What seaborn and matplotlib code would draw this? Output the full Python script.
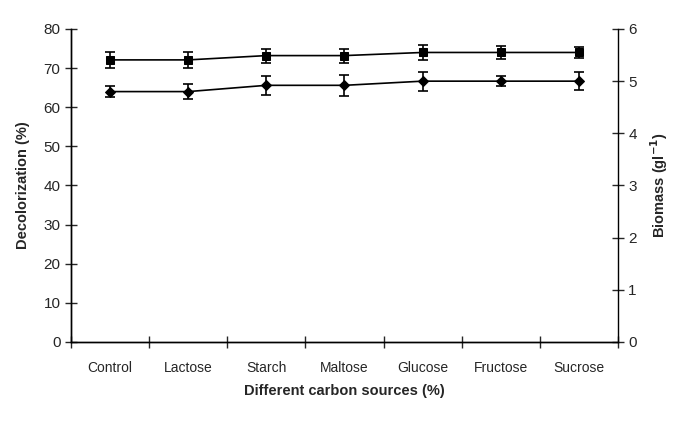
import numpy as np
import pandas as pd
import matplotlib
matplotlib.use("Agg")
import matplotlib.pyplot as plt
import seaborn as sns

# Values
sources = ['Control', 'Lactose', 'Starch', 'Maltose', 'Glucose', 'Fructose', 'Sucrose']
decolorization = [72.1, 72.1, 73.2, 73.2, 74.0, 74.0, 74.0]
decolorization_err = [2.0, 2.1, 1.8, 1.8, 1.9, 1.6, 1.4]
biomass = [4.8, 4.8, 4.92, 4.92, 5.0, 5.0, 5.0]
biomass_err = [0.10, 0.14, 0.18, 0.20, 0.18, 0.10, 0.17]

sns.set_style("ticks")
plt.rcParams['font.family'] = ['Liberation Sans Narrow', 'Liberation Sans', 'DejaVu Sans']

df = pd.DataFrame({'source': sources, 'decol': decolorization, 'biomass': biomass})

fig = plt.figure(figsize=(6.85, 4.25), dpi=100)
ax = fig.add_axes([0.1036, 0.1953, 0.7985, 0.7365])
ax2 = ax.twinx()

# Decolorization (left axis, squares)
sns.lineplot(data=df, x='source', y='decol', ax=ax, color='black', linewidth=1.2,
             marker='s', markersize=6, markeredgecolor='black', sort=False)
ax.errorbar(np.arange(len(sources)), decolorization, yerr=decolorization_err,
            fmt='none', ecolor='black', elinewidth=1.2, capsize=3.5, capthick=1.2)

# Biomass (right axis, diamonds)
sns.lineplot(data=df, x='source', y='biomass', ax=ax2, color='black', linewidth=1.2,
             marker='D', markersize=5, markeredgecolor='black', sort=False)
ax2.errorbar(np.arange(len(sources)), biomass, yerr=biomass_err,
             fmt='none', ecolor='black', elinewidth=1.2, capsize=3.5, capthick=1.2)

n = len(sources)
ax.set_xlim(-0.5, n - 0.5)
ax.set_ylim(0, 80)
ax.set_yticks(range(0, 81, 10))
ax2.set_ylim(0, 6)
ax2.set_yticks(range(0, 7))

# category boundaries as major ticks, labels centred as minor ticks
ax.set_xticks(np.arange(n + 1) - 0.5)
ax.set_xticklabels([])
ax.set_xticks(np.arange(n), minor=True)
ax.set_xticklabels(sources, minor=True)
ax.tick_params(axis='x', which='minor', length=0, labelsize=10, pad=14)
ax.tick_params(axis='x', which='major', direction='inout', length=8, width=1)
ax.tick_params(axis='y', direction='inout', length=8, width=1, labelsize=11)
ax2.tick_params(axis='y', direction='inout', length=8, width=1, labelsize=11)

for a in (ax, ax2):
    a.spines['top'].set_visible(False)
    for s in ('left', 'right', 'bottom'):
        a.spines[s].set_linewidth(1.0)
        a.spines[s].set_color('black')
ax.spines['right'].set_visible(False)

ax.set_xlabel('Different carbon sources (%)', fontsize=10.5, fontweight='bold', labelpad=6)
ax.set_ylabel('Decolorization (%)', fontsize=10.5, fontweight='bold', labelpad=10)
ax2.set_ylabel(r'Biomass (gl$^{\mathbf{-1}}$)', fontsize=10.5, fontweight='bold', labelpad=8)

fig.savefig('out.png', dpi=100, facecolor='white')
